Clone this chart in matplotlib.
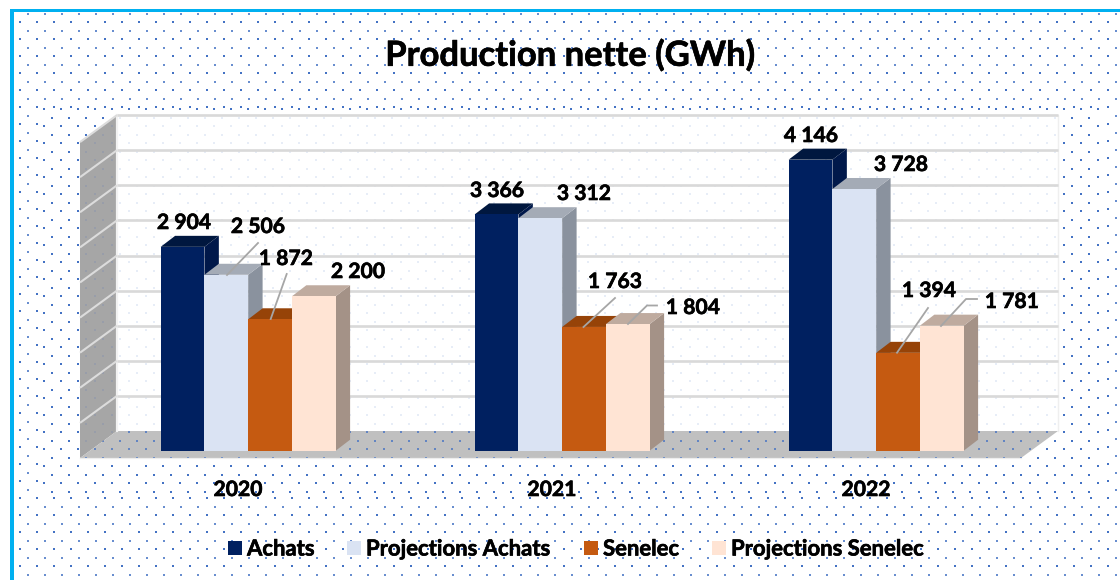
import numpy as np
import matplotlib
matplotlib.use("Agg")
import matplotlib.pyplot as plt
from matplotlib.patches import Polygon, Rectangle
import matplotlib.patheffects as pe

plt.rcParams['font.family'] = ['Lato', 'DejaVu Sans']

# ---- data ----
title = "Production nette (GWh)"
years = ["2020", "2021", "2022"]
series_names = ["Achats", "Projections Achats", "Senelec", "Projections Senelec"]
achats = [2904, 3366, 4146]
proj_achats = [2506, 3312, 3728]
senelec = [1872, 1763, 1394]
proj_senelec = [2200, 1804, 1781]
grid_values = list(range(0, 5000, 500))

# ---- style / layout ----
front_cols = ["#002060", "#DAE3F3", "#C55A11", "#FFE4D4"]
top_cols = ["#00173F", "#A4ABB6", "#964308", "#BFAB9F"]
side_cols = ["#00184A", "#8A929E", "#964308", "#A49287"]
W, H = 1120, 580
PX_PER_VAL = 0.0702
BASE_Y = 450.7
G0_X = 248.2
G_STEP = 314.0
BAR_PX = 43.75
DEPTH_X, DEPTH_Y = 14.4, 11.0
BOLD = [pe.withStroke(linewidth=0.45, foreground="black")]

fig = plt.figure(figsize=(W / 100, H / 100), dpi=100, facecolor="white")
px = fig.add_axes([0, 0, 1, 1])
px.set_xlim(0, W)
px.set_ylim(H, 0)
px.axis("off")

DOT = "#4472C4"
def grid(xs, ys):
    return np.array(np.meshgrid(xs, ys)).reshape(2, -1)

# page pattern
ga = grid(np.arange(20, 1120, 17.0), np.arange(22, 580, 17.0))
gb = grid(np.arange(28, 1120, 17.0), np.arange(13.7, 580, 17.0))
px.scatter(*ga, s=4.2, marker="s", color=DOT, linewidths=0, alpha=0.3, zorder=1)
px.scatter(*ga, s=2.2, marker="s", color=DOT, linewidths=0, zorder=1)
px.scatter(*gb, s=2.6, marker=(4, 0, 45), color=DOT, linewidths=0, alpha=0.8, zorder=1)

# plot-area panel with its own pattern
PL, PR, PT, PB = 40, 1101, 108, 494.5
px.add_patch(Rectangle((PL, PT), PR - PL, PB - PT, fc="white", ec="none", zorder=2))
gc = grid(np.arange(43.7, PR, 17.0), np.arange(109, PB, 17.0))
gd = grid(np.arange(52.3, PR, 17.0), np.arange(118, PB, 17.0))
for g in (gc, gd):
    px.scatter(*g, s=4.2, marker="s", color=DOT, linewidths=0, alpha=0.3, zorder=3)
    px.scatter(*g, s=2.2, marker="s", color=DOT, linewidths=0, zorder=3)

# border
px.add_patch(Rectangle((9.5, 9.2), 4, H, fc="#00B0F0", ec="none", zorder=4))
px.add_patch(Rectangle((9.5, 9.2), W, 3, fc="#00B0F0", ec="none", zorder=4))

# walls and floor
WL, WR, WT, WB = 117, 1058, 115.0, 431.0
FX, FY = -37, 27.0
px.add_patch(Rectangle((WL, WT), WR - WL, WB - WT, fc="white", ec="none", alpha=0.88, zorder=5))
left_wall = Polygon([(WL + FX, WT + FY), (WL, WT), (WL, WB), (WL + FX, WB + FY)],
                    fc="#A6A6A6", ec="none", zorder=5)
floor = Polygon([(WL + FX, WB + FY), (WL, WB), (WR, WB), (WR + FX, WB + FY)],
                fc="#C0C0C0", ec="none", zorder=5)
px.add_patch(left_wall)
px.add_patch(floor)
for g in (gc, gd):
    sc = px.scatter(*g, s=2.4, marker="s", color="#7F8FAF", linewidths=0, alpha=0.35, zorder=5.2)
    sc.set_clip_path(left_wall)
    sc = px.scatter(*g, s=3.0, marker="s", color=DOT, linewidths=0, alpha=0.75, zorder=5.2)
    sc.set_clip_path(floor)
px.plot([WL, WR, WR], [WT, WT, WB], color="#EFEFEF", lw=1.0, zorder=5.5)
px.plot([WL, WL], [WT, WB], color="#F2F2F2", lw=1.6, zorder=6)
px.plot([WL + FX, WR + FX], [WB + FY, WB + FY], color="#EDEDED", lw=0.9, zorder=6)

# value axes on top
ax = fig.add_axes([0, 0, 1, 1], facecolor="none", zorder=5)
ax.set_xlim((0 - G0_X) / G_STEP, (W - G0_X) / G_STEP)
ax.set_ylim((BASE_Y - H) / PX_PER_VAL, BASE_Y / PX_PER_VAL)
ax.axis("off")

wall_offset = (BASE_Y - WB) / PX_PER_VAL  # wall baseline in value units
for v in grid_values[1:]:
    y = v + wall_offset
    ax.plot([(WL - G0_X) / G_STEP, (WR - G0_X) / G_STEP], [y, y], color="#D9D9D9", lw=1.9, zorder=6,
            solid_capstyle="butt")
    ax.plot([(WL - G0_X) / G_STEP, (WL + FX - G0_X) / G_STEP], [y, y - FY / PX_PER_VAL],
            color="#DCDCDC", lw=1.5, zorder=6, solid_capstyle="butt")

# bars
bw = BAR_PX / G_STEP
dx = DEPTH_X / G_STEP
dy = DEPTH_Y / PX_PER_VAL
series = [achats, proj_achats, senelec, proj_senelec]
z = 10
for g in range(len(years)):
    for s, vals in enumerate(series):
        left = g + (s - 2) * bw
        v = vals[g]
        right = left + bw
        ax.add_patch(Polygon([(right, 0), (right + dx, dy), (right + dx, v + dy), (right, v)],
                             fc=side_cols[s], ec="none", zorder=z))
        ax.add_patch(Polygon([(left, v), (left + dx, v + dy), (right + dx, v + dy), (right, v)],
                             fc=top_cols[s], ec="none", zorder=z))
        ax.bar(left + bw / 2, v, width=bw, color=front_cols[s], linewidth=0, zorder=z + 1)
        z += 2

# leaders (pixel coordinates)
leaders = [
    [(227, 275), (258, 243)],
    [(270.7, 319), (286.7, 274)],
    [(583.5, 327), (615, 298)],
    [(628, 324), (647, 305.5), (657, 305.5)],
    [(897, 352.7), (928, 308)],
    [(941, 326), (966, 299), (977, 299)],
]
for pts in leaders:
    xs, ys = zip(*pts)
    ax.plot((np.array(xs) - G0_X) / G_STEP, (BASE_Y - np.array(ys)) / PX_PER_VAL,
            color="#A6A6A6", lw=1.3, zorder=100)

# data labels
label_pos = [
    [(184, 223), (258, 227), (286, 259), (358, 272)],
    [(497, 191), (584, 194), (615, 282), (693, 308)],
    [(811, 136), (901, 165), (929, 291), (1012, 302)],
]
def fmt(v):
    return f"{v:,}".replace(",", " ")
for g in range(len(years)):
    for s, vals in enumerate(series):
        x, y = label_pos[g][s]
        ax.text((x - G0_X) / G_STEP, (BASE_Y - y) / PX_PER_VAL, fmt(vals[g]),
                ha="center", va="center", fontsize=15.2, fontweight="bold", color="black", zorder=200,
                path_effects=BOLD)

# category labels
for g, yr in enumerate(years):
    ax.text((238 + g * G_STEP - G0_X) / G_STEP, (BASE_Y - 490) / PX_PER_VAL, yr,
            ha="center", va="center", fontsize=15.2, fontweight="bold", color="black", zorder=200,
            path_effects=BOLD)

# title
ax.text((570.5 - G0_X) / G_STEP, (BASE_Y - 55.5) / PX_PER_VAL, title, ha="center", va="center",
        fontsize=24.9, fontweight="bold", color="black", zorder=200, path_effects=BOLD)

# legend
leg_sq = [228, 346.5, 584, 712]
leg_tx = [247, 366, 603, 731]
for name, col, sx, tx in zip(series_names, front_cols, leg_sq, leg_tx):
    px.add_patch(Rectangle((sx, 541), 14, 14, fc=col, ec="none", zorder=8))
    px.text(tx, 549, name, ha="left", va="center", fontsize=15.9, fontweight="bold", color="black", zorder=9,
            path_effects=BOLD)

fig.savefig("out.png", dpi=100)
